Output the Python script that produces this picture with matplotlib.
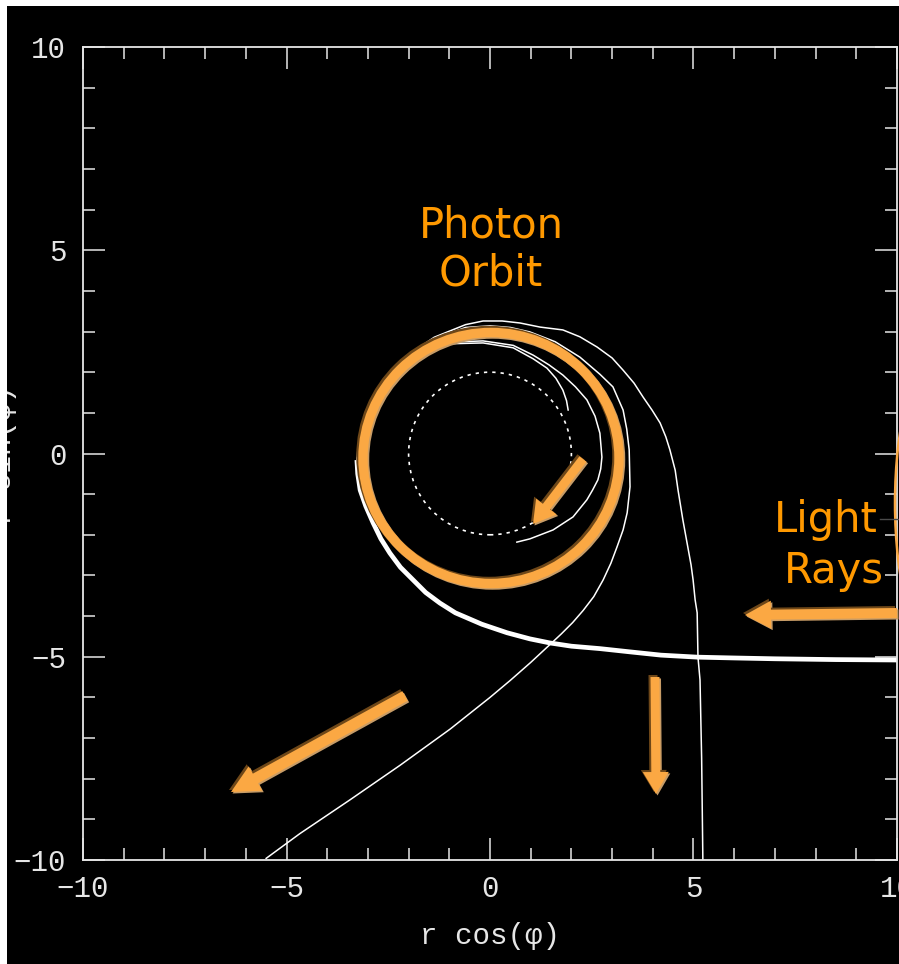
import matplotlib
matplotlib.use("Agg")
import matplotlib.pyplot as plt
from matplotlib.patches import Circle, Ellipse, FancyArrow, Rectangle
from matplotlib.ticker import MultipleLocator

# ---------------------------------------------------------------------------
# Photon trajectories around a Schwarzschild black hole (units of GM/c^2).
# All rays arrive from the right along a common inbound track, then split.
# ---------------------------------------------------------------------------
inbound_x = [10.0, 8.5, 7.0, 6.0, 5.1, 4.2, 3.44, 2.7, 2.0, 1.47, 0.98, 0.42,
             -0.20, -0.85, -1.23, -1.58, -1.89, -2.20, -2.46, -2.68, -2.87,
             -3.05, -3.19, -3.25, -3.27]
inbound_y = [-5.08, -5.07, -5.05, -5.03, -5.01, -4.96, -4.88, -4.80, -4.74,
             -4.66, -4.56, -4.41, -4.20, -3.92, -3.68, -3.42, -3.11, -2.80,
             -2.45, -2.10, -1.71, -1.30, -0.90, -0.50, -0.16]

# ray deflected by ~270 deg, leaves downward
ray_a_x = [-3.27, -3.24, -3.03, -2.63, -2.07, -1.37, -0.60, -0.17, 0.30, 0.74,
           1.23, 1.79, 2.21, 2.63, 3.00, 3.27, 3.54, 3.76, 3.98, 4.18, 4.32,
           4.42, 4.55, 4.62, 4.74, 4.86, 4.94, 4.99, 5.04, 5.09, 5.10, 5.11,
           5.16, 5.20, 5.23]
ray_a_y = [-0.16, 0.17, 1.00, 1.75, 2.38, 2.86, 3.17, 3.26, 3.26, 3.21,
           3.11, 3.04, 2.87, 2.62, 2.35, 2.05, 1.73, 1.39, 1.07, 0.75, 0.41,
           0.09, -0.41, -0.90, -1.64, -2.30, -2.74, -3.11, -3.60, -3.92, -4.47,
           -5.01, -5.57, -7.50, -10.0]

# ray deflected by ~320 deg, leaves toward lower left
ray_b_x = [-3.27, -3.19, -3.01, -2.62, -2.05, -1.34, -0.60, 0.00, 0.50, 0.98,
           1.60, 2.21, 2.70, 3.02, 3.27, 3.36, 3.42, 3.44, 3.37, 3.27, 3.12,
           2.97, 2.78, 2.55, 2.29, 2.03, 1.75, 1.43, 1.00, 0.50, 0.00, -0.98,
           -2.21, -3.44, -4.67, -5.50]
ray_b_y = [-0.16, 0.17, 0.99, 1.74, 2.36, 2.83, 3.10, 3.14, 3.10, 2.99,
           2.75, 2.37, 1.95, 1.64, 1.07, 0.60, 0.09, -0.82, -1.46, -1.88, -2.30,
           -2.70, -3.11, -3.52, -3.86, -4.16, -4.44, -4.74, -5.14, -5.58, -6.00,
           -6.78, -7.67, -8.52, -9.35, -9.96]

# ray captured after about one and a half turns
ray_c_x = [-3.27, -3.19, -2.95, -2.52, -1.94, -1.25, -0.98, -0.17, 0.57, 1.06,
           1.45, 1.79, 2.10, 2.38, 2.58, 2.70, 2.75, 2.72, 2.65, 2.52, 2.38,
           2.04, 1.55, 0.98, 0.66]
ray_c_y = [-0.16, 0.17, 0.97, 1.67, 2.23, 2.61, 2.74, 2.77, 2.66, 2.42,
           2.18, 1.93, 1.64, 1.32, 0.92, 0.50, -0.09, -0.38, -0.65, -0.90, -1.14,
           -1.56, -1.88, -2.10, -2.18]

# ray captured soonest
ray_d_x = [-3.27, -3.19, -2.95, -2.52, -1.94, -1.25, -0.98, -0.17, 0.57, 1.06,
           1.40, 1.62, 1.79, 1.88, 1.92]
ray_d_y = [-0.16, 0.17, 0.97, 1.67, 2.23, 2.61, 2.70, 2.72, 2.60, 2.33,
           2.10, 1.85, 1.56, 1.30, 1.07]

horizon_radius = 2.0

tick_major = 5
tick_minor = 1

W, H, DPI = 899, 964, 100
FG = "#e6e6e6"
ORANGE = "#FBA843"
BROWN = "#6E4718"
TAN = "#C89C66"
TEXT_ORANGE = "#FF9900"

plt.rcParams["font.family"] = ["Liberation Mono", "DejaVu Sans Mono"]

fig = plt.figure(figsize=(W / DPI, H / DPI), dpi=DPI)
fig.patch.set_facecolor("black")

ax = fig.add_axes([83 / W, 1 - 860 / H, (897 - 83) / W, (860 - 47) / H])
ax.set_facecolor("black")
ax.set_xlim(-10, 10)
ax.set_ylim(-10, 10)
for s in ax.spines.values():
    s.set_color(FG)
    s.set_linewidth(1.3)
for axis in (ax.xaxis, ax.yaxis):
    axis.set_major_locator(MultipleLocator(tick_major))
    axis.set_minor_locator(MultipleLocator(tick_minor))
ax.tick_params(which="both", direction="in", top=True, right=True,
               color=FG, width=1.1, labelcolor=FG)
ax.tick_params(which="major", length=15.5, labelsize=21)
ax.tick_params(which="minor", length=8.5)
ax.tick_params(axis="x", which="major", pad=11)
ax.tick_params(axis="y", which="major", pad=12)

# trajectories
ax.plot(inbound_x, inbound_y, color="white", lw=3.4,
        solid_capstyle="butt", solid_joinstyle="round")
for xs, ys in [(ray_a_x, ray_a_y), (ray_b_x, ray_b_y),
               (ray_c_x, ray_c_y), (ray_d_x, ray_d_y)]:
    ax.plot(xs, ys, color="white", lw=1.1, solid_joinstyle="round")
ax.add_patch(Circle((0, 0), horizon_radius, fill=False, ec="white",
                    lw=1.2, linestyle=(0, (2, 3))))

# annotation layer in pixel coordinates
ov = fig.add_axes([0, 0, 1, 1])
ov.set_xlim(0, W)
ov.set_ylim(H, 0)
ov.axis("off")
ov.patch.set_alpha(0)

# highlighted photon orbit ring
for ox, oy, col in [(1.5, 1.5, TAN), (-2, -2, BROWN), (0, 0, ORANGE)]:
    ov.add_patch(Ellipse((491 + ox, 458 + oy), 256, 251, fill=False,
                         ec=col, lw=6.8))


def block_arrow(tail, tip, width, head_w, head_l):
    for ox, oy, col in [(1.5, 1.5, TAN), (-2, -2, BROWN), (0, 0, ORANGE)]:
        ov.add_patch(FancyArrow(tail[0] + ox, tail[1] + oy,
                                tip[0] - tail[0], tip[1] - tail[1],
                                width=width, head_width=head_w,
                                head_length=head_l, length_includes_head=True,
                                color=col, lw=0))


block_arrow((583, 459), (533, 524), 9, 26, 22)
block_arrow((897, 613), (745, 615), 10, 28, 26)
block_arrow((405, 696), (231, 792), 11, 28, 28)
block_arrow((655, 677), (656, 794), 9, 26, 22)

# partial outline at right edge and connector
ov.add_patch(Ellipse((935, 503), 80, 290, fill=False, ec=ORANGE, lw=1.8))
ov.plot([880, 899], [519, 519], color="#4a4a4a", lw=1.0)

tk = dict(color=TEXT_ORANGE, fontsize=30, family=["DejaVu Sans"],
          ha="center", va="baseline")
ov.text(491, 237, "Photon", **tk)
ov.text(491, 286, "Orbit", **tk)
ov.text(826, 532, "Light", **tk)
ov.text(834, 583, "Rays", **tk)

# axis titles (the vertical one runs off the left edge)
ov.text(490, 936, "r cos(φ)", color=FG, fontsize=21, ha="center", va="center")
ov.text(3, 455, "r sin(φ)", color=FG, fontsize=21, ha="center", va="center",
        rotation=90)

# white margin on top and left
ov.add_patch(Rectangle((0, 0), W, 6, color="white", lw=0, zorder=20))
ov.add_patch(Rectangle((0, 0), 7, H, color="white", lw=0, zorder=20))

fig.savefig("out.png", dpi=DPI, facecolor=fig.get_facecolor())
